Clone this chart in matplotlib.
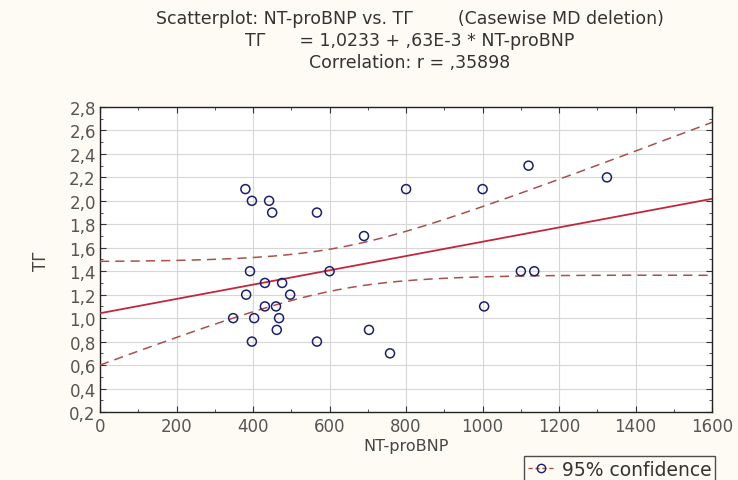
import matplotlib
matplotlib.use("Agg")
import matplotlib.pyplot as plt
import numpy as np
from matplotlib.ticker import FuncFormatter, MultipleLocator

# NT-proBNP and TГ values
nt_probnp = [380, 397, 442, 450, 567, 690, 800, 1000, 1120, 1325,
             392, 600, 1100, 1135, 431, 476, 382, 497, 431, 460,
             348, 403, 468, 462, 703, 1004, 397, 567, 758]
tg = [2.1, 2.0, 2.0, 1.9, 1.9, 1.7, 2.1, 2.1, 2.3, 2.2,
      1.4, 1.4, 1.4, 1.4, 1.3, 1.3, 1.2, 1.2, 1.1, 1.1,
      1.0, 1.0, 1.0, 0.9, 0.9, 1.1, 0.8, 0.8, 0.7]

title_lines = [
    "Scatterplot: NT-proBNP vs. TГ        (Casewise MD deletion)",
    "TГ      = 1,0233 + ,63E-3 * NT-proBNP",
    "Correlation: r = ,35898",
]

x = np.array(nt_probnp, dtype=float)
y = np.array(tg, dtype=float)

# least squares fit and 95% confidence band for the mean
n = len(x)
slope, intercept = np.polyfit(x, y, 1)
resid = y - (intercept + slope * x)
s = np.sqrt((resid ** 2).sum() / (n - 2))
t_crit = 2.052  # t(0.975, df=27)
xs = np.linspace(0, 1600, 200)
fit = intercept + slope * xs
half = t_crit * s * np.sqrt(1 / n + (xs - x.mean()) ** 2 / ((x - x.mean()) ** 2).sum())

plt.rcParams["font.family"] = ["DejaVu Sans"]

fig = plt.figure(figsize=(7.38, 4.81), dpi=100, facecolor="#fdfbf3")
ax = fig.add_axes([0.1355, 0.1414, 0.8295, 0.6341])
ax.set_facecolor("white")

band_color = "#a8504c"
ax.plot(xs, fit, color="#c0283c", lw=1.3, zorder=3)
ax.plot(xs, fit + half, color=band_color, lw=1.1, ls=(0, (6, 4)), zorder=3)
ax.plot(xs, fit - half, color=band_color, lw=1.1, ls=(0, (6, 4)), zorder=3)
ax.scatter(x, y, s=42, facecolors="none", edgecolors="#1c1f6a", linewidths=1.1, zorder=4)

ax.set_xlim(0, 1600)
ax.set_ylim(0.2, 2.8)
ax.xaxis.set_major_locator(MultipleLocator(200))
ax.xaxis.set_minor_locator(MultipleLocator(100))
ax.yaxis.set_major_locator(MultipleLocator(0.2))
ax.yaxis.set_minor_locator(MultipleLocator(0.1))
ax.yaxis.set_major_formatter(FuncFormatter(lambda v, p: f"{v:.1f}".replace(".", ",")))
ax.grid(True, which="major", color="#d6d6d6", lw=0.8)
ax.tick_params(which="both", direction="in", top=True, right=True, labelsize=12,
               colors="#333333", labelcolor="#555555")
ax.tick_params(which="major", length=4)
ax.tick_params(which="minor", length=2)
ax.tick_params(axis="y", pad=3)
for sp in ax.spines.values():
    sp.set_color("#222222")
    sp.set_linewidth(1.0)

ax.set_xlabel("NT-proBNP", fontsize=11.5, color="#444444", labelpad=2)
ax.set_ylabel("TГ", fontsize=12, color="#444444", labelpad=14)

for i, line in enumerate(title_lines):
    fig.text(0.555, 0.96 - i * 0.045, line, ha="center", va="center",
             fontsize=12.5, color="#333333")

handle = plt.Line2D([], [], color=band_color, lw=1.0, ls=(0, (3, 2)), marker="o",
                    markerfacecolor="none", markeredgecolor="#1c1f6a", markersize=6)
leg = fig.legend([handle], ["95% confidence"], loc="lower right",
                 bbox_to_anchor=(0.982, -0.025), fontsize=13.5, frameon=True, fancybox=False,
                 handlelength=1.4, borderpad=0.2, handletextpad=0.4, labelcolor="#333333")
leg.get_frame().set_edgecolor("#222222")
leg.get_frame().set_linewidth(1.0)
leg.get_frame().set_facecolor("#fdfbf3")

fig.savefig("out.png", dpi=100, facecolor=fig.get_facecolor())
